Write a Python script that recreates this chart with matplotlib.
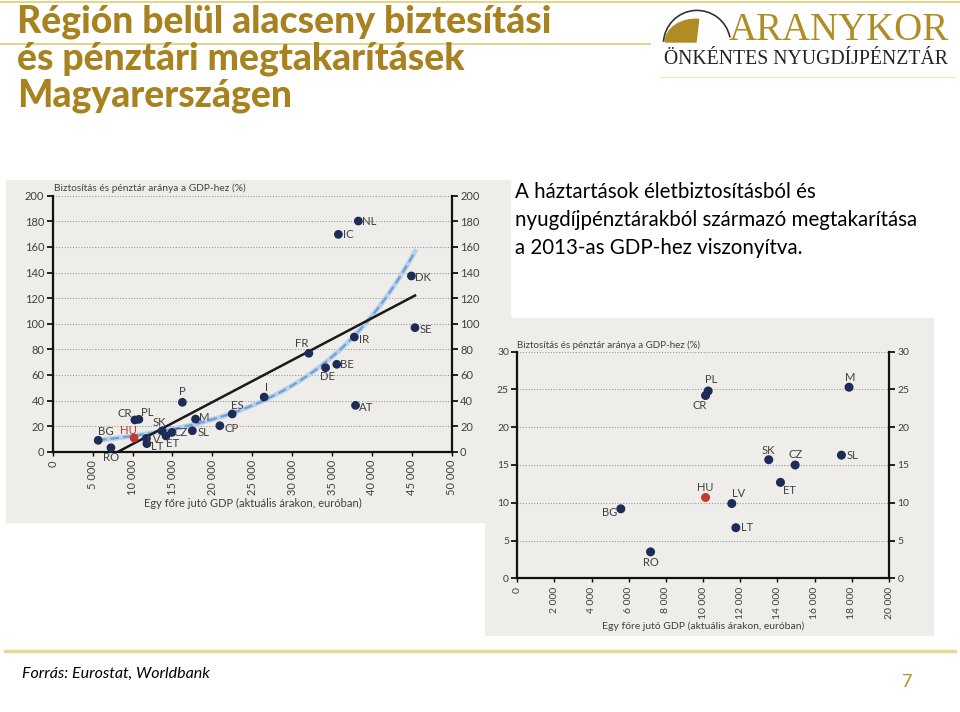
import matplotlib
matplotlib.use("Agg")
import matplotlib.pyplot as plt
import numpy as np
from matplotlib.patches import Rectangle, Wedge, Arc
from matplotlib.ticker import FuncFormatter

W, H = 960, 712

# chart 1: all countries (GDP per capita, EUR ; insurance+pension savings, % of GDP)
eu_labels = ["BG", "RO", "CR", "PL", "HU", "LV", "LT", "SK", "ET", "CZ", "P", "SL", "M",
             "CP", "ES", "I", "FR", "DE", "BE", "IC", "NL", "IR", "AT", "DK", "SE"]
eu_gdp = [5700, 7300, 10300, 10800, 10200, 11750, 11800, 13700, 14200, 14950, 16250, 17500, 17900,
          20950, 22500, 26500, 32100, 34200, 35600, 35800, 38300, 37800, 37950, 44950, 45400]
eu_ratio = [8.9, 3.1, 24.8, 25.3, 10.7, 10.4, 6.3, 16.2, 12.3, 15.1, 38.6, 16.4, 25.5,
            20.3, 29.5, 42.7, 76.9, 65.6, 68.3, 169.8, 180.2, 89.6, 36.2, 137.3, 96.9]
# label offsets (pixels, right / down)
eu_off = [(8, -9), (0, 10), (-10, -6), (8, -7), (-6, -8), (7, 1), (10, 3), (-3, -8), (7, 8),
          (9, 0), (0, -11), (11, 2), (9, -2), (12, 3), (5, -8), (2, -10), (-7, -10), (2, 9),
          (10, 0), (10, 0), (11, 0), (10, 2), (11, 2), (12, 2), (11, 2)]

# trend lines: linear y = a*x + b (x in thousand EUR), exponential y = c*exp(k*x)
lin_a, lin_b = 3.28, -26.9
exp_c, exp_k = 5.98, 0.0719

# chart 2: CEE zoom
cee_labels = ["BG", "RO", "CR", "PL", "HU", "LV", "LT", "SK", "CZ", "ET", "SL", "M"]
cee_gdp = [5570, 7170, 10130, 10270, 10130, 11540, 11760, 13530, 14950, 14160, 17440, 17850]
cee_ratio = [9.2, 3.5, 24.2, 24.8, 10.7, 9.9, 6.7, 15.7, 15.0, 12.7, 16.3, 25.3]
cee_off = [(-11, 4), (0, 11), (-6, 10), (3, -11), (0, -10), (7, -10), (11, 0), (0, -9),
           (0, -10), (9, 8), (11, 0), (1, -10)]

title_lines = ["Régión belül alacseny biztesítási", "és pénztári megtakarításek", "Magyarerszágen"]
desc_lines = ["A háztartások életbiztosításból és",
              "nyugdíjpénztárakból származó megtakarítása",
              "a 2013-as GDP-hez viszonyítva."]

navy = "#1d2b57"
red = "#c43a31"
gold = "#a8821e"
txt = "#404040"
panel = "#efede9"

plt.rcParams["font.family"] = ["Lato", "DejaVu Sans"]

fig = plt.figure(figsize=(9.6, 7.12), dpi=100)
fig.patch.set_facecolor("white")


def rect(x0, y0, x1, y1):
    return [x0 / W, 1 - y1 / H, (x1 - x0) / W, (y1 - y0) / H]


def fx(x):
    return x / W


def fy(y):
    return 1 - y / H


def thousands(v, pos):
    return "{:,}".format(int(v)).replace(",", " ")


# gold rules
fig.add_artist(plt.Line2D([0, 1], [fy(2), fy(2)], color="#e6d390", lw=1.5))
fig.add_artist(plt.Line2D([0, fx(650)], [fy(44), fy(44)], color="#e6d390", lw=1.5))
fig.add_artist(plt.Line2D([fx(660), fx(955)], [fy(77), fy(77)], color="#f0e6c0", lw=1))
fig.add_artist(plt.Line2D([fx(5), fx(955)], [fy(651), fy(651)], color="#e2da95", lw=2.5))

# title
for i, line in enumerate(title_lines):
    fig.text(fx(17), fy(22 + 37 * i), line, color=gold, fontsize=26.8, fontweight="black",
             va="center", ha="left")

# logo
fig.add_artist(Wedge((fx(696), fy(42)), 0.032, 85, 180, color="#b08d24",
                     transform=fig.transFigure))
fig.add_artist(Arc((fx(697), fy(44)), 0.07, 0.07 * W / H, theta1=15, theta2=175,
                   color="#333333", lw=1.2, transform=fig.transFigure))
fig.text(fx(729), fy(30), "ARANYKOR", color="#b08d24", fontsize=28, va="center", ha="left",
         family=["Liberation Serif", "DejaVu Serif"])
fig.text(fx(664), fy(59), "ÖNKÉNTES NYUGDÍJPÉNZTÁR", color="#222222", fontsize=14.2,
         va="center", ha="left", family=["Liberation Serif", "DejaVu Serif"])

# description
for i, line in enumerate(desc_lines):
    fig.text(fx(515), fy(192 + 28 * i), line, fontsize=14.8, color="black",
             va="center", ha="left")

# footer
fig.text(fx(22), fy(674), "Forrás: Eurostat, Worldbank", fontsize=11.5, style="italic",
         va="center", ha="left", color="black")
fig.text(fx(907), fy(682), "7", fontsize=13, color="#b09020", va="center", ha="center")

# panels
fig.add_artist(Rectangle((fx(6), fy(522)), fx(510) - fx(6), fy(180) - fy(522),
                         transform=fig.transFigure, color=panel, zorder=0))
fig.add_artist(Rectangle((fx(485), fy(635)), fx(933) - fx(485), fy(318) - fy(635),
                         transform=fig.transFigure, color=panel, zorder=1.5))


def style_axes(ax, fs):
    ax.set_facecolor("none")
    ax.spines["top"].set_visible(False)
    for s in ["left", "right", "bottom"]:
        ax.spines[s].set_linewidth(1.6)
        ax.spines[s].set_color("#111111")
    ax.tick_params(axis="y", which="both", left=True, right=True, labelleft=True,
                   labelright=True, direction="out", length=4, width=1.2,
                   labelsize=fs, labelcolor=txt, pad=2)
    ax.tick_params(axis="x", direction="out", length=3, width=1, labelsize=fs,
                   labelcolor=txt, labelrotation=90, pad=3)
    ax.yaxis.grid(True, linestyle=(0, (1, 1.5)), color="#9a9a9a", lw=0.8)
    ax.set_axisbelow(True)
    ax.xaxis.set_major_formatter(FuncFormatter(thousands))


# chart 1
ax1 = fig.add_axes(rect(52.7, 195.7, 451.7, 451.7))
ax1.set_zorder(1)
style_axes(ax1, 8)
ax1.set_xlim(0, 50000)
ax1.set_ylim(0, 200)
ax1.set_xticks(np.arange(0, 50001, 5000))
ax1.set_yticks(np.arange(0, 201, 20))

xs = np.array(eu_gdp) / 1000.0
tx = np.linspace(xs.min(), xs.max(), 200)
ax1.plot(tx * 1000, exp_c * np.exp(exp_k * tx), color="#b7d1ea", lw=3.5, zorder=2)
ax1.plot(tx * 1000, exp_c * np.exp(exp_k * tx), color="#6e9fd2", lw=1.5,
         dashes=(4, 2), zorder=2.1)
lx = np.array([xs.min(), xs.max()])
ax1.plot(lx * 1000, lin_a * lx + lin_b, color="#1a1a1a", lw=1.8, zorder=2.2)

cols1 = [red if l == "HU" else navy for l in eu_labels]
ax1.scatter(eu_gdp, eu_ratio, s=28, c=cols1, zorder=3, clip_on=False)
for l, x, y, (dx, dy) in zip(eu_labels, eu_gdp, eu_ratio, eu_off):
    ax1.annotate(l, (x, y), xytext=(dx * 0.72, -dy * 0.72), textcoords="offset points",
                 ha="center", va="center", fontsize=8.2,
                 color=red if l == "HU" else txt, zorder=4)
fig.text(fx(54), fy(188), "Biztosítás és pénztár aránya a GDP-hez (%)", fontsize=7.3,
         color=txt, va="center", ha="left")
fig.text(fx(253), fy(503), "Egy főre jutó GDP (aktuális árakon, euróban)", fontsize=8,
         color=txt, va="center", ha="center")

# chart 2
ax2 = fig.add_axes(rect(517.3, 351.7, 889, 578.3))
ax2.set_zorder(2)
style_axes(ax2, 7.5)
ax2.set_xlim(0, 20000)
ax2.set_ylim(0, 30)
ax2.set_xticks(np.arange(0, 20001, 2000))
ax2.set_yticks(np.arange(0, 31, 5))

cols2 = [red if l == "HU" else navy for l in cee_labels]
ax2.scatter(cee_gdp, cee_ratio, s=30, c=cols2, zorder=3)
for l, x, y, (dx, dy) in zip(cee_labels, cee_gdp, cee_ratio, cee_off):
    ax2.annotate(l, (x, y), xytext=(dx * 0.72, -dy * 0.72), textcoords="offset points",
                 ha="center", va="center", fontsize=8, color=txt, zorder=4)
fig.text(fx(517), fy(345), "Biztosítás és pénztár aránya a GDP-hez (%)", fontsize=7,
         color=txt, va="center", ha="left", zorder=5)
fig.text(fx(703), fy(626), "Egy főre jutó GDP (aktuális árakon, euróban)", fontsize=7.5,
         color=txt, va="center", ha="center", zorder=5)

fig.savefig("out.png", dpi=100)
